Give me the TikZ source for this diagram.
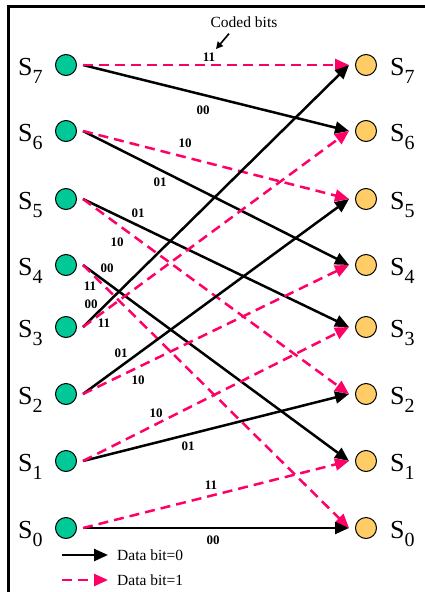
\documentclass[tikz,border=0pt]{standalone}
\usepackage{fontspec}
\setmainfont{Liberation Serif}
\usetikzlibrary{arrows.meta,calc}
\definecolor{grn}{HTML}{00C896}
\definecolor{org}{HTML}{FFCC66}
\definecolor{pnk}{HTML}{FF0066}
\newcommand{\st}[1]{{\fontsize{26}{28}\selectfont S}\raisebox{-8pt}{\fontsize{20}{22}\selectfont #1}}
\begin{document}
\begin{tikzpicture}[x=1pt,y=-1pt,
  lst/.style={circle,draw=black,line width=1pt,fill=grn,minimum size=21pt,inner sep=0pt},
  rst/.style={circle,draw=black,line width=1pt,fill=org,minimum size=21pt,inner sep=0pt},
  slab/.style={inner sep=0pt,anchor=base west},
  zero/.style={draw=black,line width=2.5pt,-{Triangle[length=14pt,width=12pt]}},
  one/.style={draw=pnk,line width=2.5pt,dash pattern=on 10pt off 6pt,-{Triangle[length=14pt,width=12pt]}},
  bits/.style={font=\bfseries\fontsize{13}{14}\selectfont,inner sep=0pt},
  txt/.style={font=\fontsize{15.5}{17}\selectfont,inner sep=0pt}]
\useasboundingbox (0,0) rectangle (425,592);
\draw[line width=2.2pt] (8.5,592) -- (8.5,6.5) -- (425,6.5);
% states
\foreach \i/\y in {7/65,6/131,5/199,4/265,3/327,2/394,1/461,0/528}{
  \node[lst] (L\i) at (66,\y) {};
  \node[rst] (R\i) at (366,\y) {};
  \node[slab] (SL\i) at (18,\y+10) {\st{\i}};
  \node[slab] (SR\i) at (390,\y+10) {\st{\i}};
}
% transitions
\foreach \a/\b/\s in {7/6/zero,7/7/one,6/4/zero,6/5/one,5/3/zero,5/2/one,4/1/zero,4/0/one,
                      3/7/zero,3/6/one,2/5/zero,2/4/one,1/2/zero,1/3/one,0/0/zero,0/1/one}{
  \draw[\s] ($(L\a)+(17,0)$) -- ($(R\b)+(-17,0)$);
}
% coded bits labels
\node[bits] (b1) at (209,57) {11};
\node[bits] (b2) at (203,110) {00};
\node[bits] (b3) at (185,143) {10};
\node[bits] (b4) at (160,182) {01};
\node[bits] (b5) at (138,213) {01};
\node[bits] (b6) at (117,242) {10};
\node[bits] (b7) at (107,268) {00};
\node[bits] (b8) at (90,286) {11};
\node[bits] (b9) at (91,304) {00};
\node[bits] (b10) at (104,323) {11};
\node[bits] (b11) at (121,353) {01};
\node[bits] (b12) at (138,380) {10};
\node[bits] (b13) at (156,413) {10};
\node[bits] (b14) at (188,446) {01};
\node[bits] (b15) at (211,485) {11};
\node[bits] (b16) at (213,540) {00};
% caption
\node[txt] (coded) at (244,22) {Coded bits};
\coordinate (cbtip) at (216,49);
\draw[line width=1.6pt,-{Triangle[length=7pt,width=7pt]}] ($(coded.south)+(-15,6)$) -- (cbtip);
% legend
\coordinate (l0a) at (62,555);
\coordinate (l0b) at (108,555);
\coordinate (l1a) at (62,580);
\coordinate (l1b) at (108,580);
\draw[zero] (l0a) -- (l0b);
\draw[one] (l1a) -- (l1b);
\node[txt,anchor=west] (t0) at (117,555) {Data bit=0};
\node[txt,anchor=west] (t1) at (117,580) {Data bit=1};
\end{tikzpicture}
\end{document}
